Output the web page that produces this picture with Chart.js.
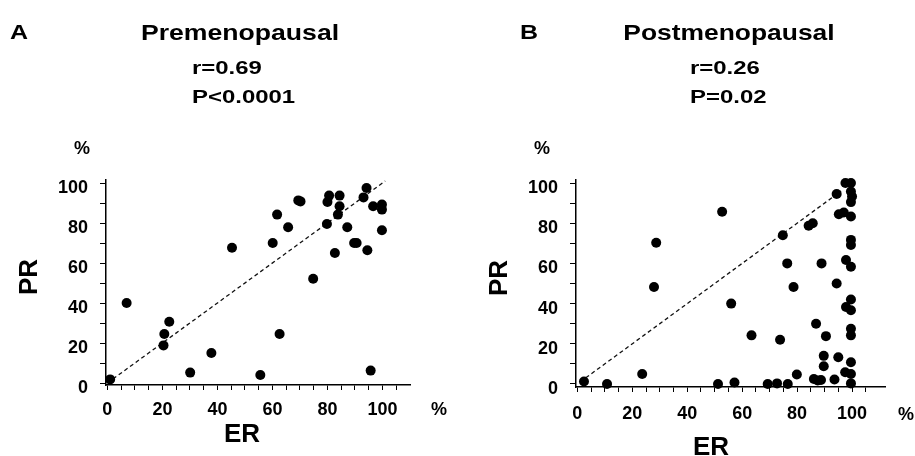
<!DOCTYPE html>
<html><head><meta charset="utf-8">
<script src="https://cdn.jsdelivr.net/npm/chart.js@4"></script>
<style>
html,body{margin:0;padding:0;background:#fff;width:915px;height:456px;overflow:hidden}
.p{position:absolute;top:0}
#wa{left:0;width:458px;height:456px}
#wb{left:458px;width:457px;height:456px}
</style></head><body>
<div class="p" id="wa"><canvas id="ca" width="458" height="456"></canvas></div>
<div class="p" id="wb"><canvas id="cb" width="457" height="456"></canvas></div>
<script>
// ---- data ----
const preER = [1, 7, 20.4, 20.7, 22.5, 30.1, 37.8, 45.3, 55.6, 60.1, 61.7, 62.6, 65.7, 69.4, 70.2, 74.8, 79.8, 80, 80.6, 82.7, 83.8, 84.4, 84.4, 87.2, 89.7, 90.6, 93.1, 94.2, 94.5, 95.7, 96.6, 99.8, 99.8, 99.8];
const prePR = [1.8, 40, 18.8, 24.5, 30.6, 5.2, 15, 67.6, 4, 70, 84.2, 24.5, 77.9, 91.3, 90.8, 52.1, 79.5, 90.5, 93.7, 65, 84.2, 88.4, 93.7, 77.9, 70, 70, 92.8, 97.5, 66.4, 6.2, 88.4, 89.2, 86.7, 76.4];
const postER = [2.4, 10.8, 23.6, 27.9, 28.7, 51.2, 52.7, 56, 57.2, 63.4, 69.3, 72.7, 73.8, 74.8, 76.4, 76.6, 78.7, 79.9, 84.2, 85.7, 86.1, 86.9, 87.5, 88.7, 88.9, 89.7, 89.7, 90.5, 93.6, 94.4, 94.4, 95, 95.2, 97, 97.6, 99.6, 97.5, 97.8, 97.8, 99.6, 99.6, 99.6, 99.6, 99.6, 99.6, 99.6, 99.6, 99.6, 99.6, 99.6, 99.6, 99.6, 100];
const postPR = [1.2, 0, 5, 48.3, 70.3, 0, 85.7, 40, 0.7, 24.2, 0, 0.3, 22, 74, 60, 0, 48.3, 4.7, 78.7, 80, 2.5, 30, 1.7, 2, 60, 14, 8.8, 23.8, 2.2, 94.5, 50, 13.3, 84.5, 85.3, 100, 100, 5.8, 61.7, 38.3, 95.8, 90.5, 83.3, 71.7, 69.2, 58.3, 42, 36.7, 27.5, 24.2, 10.8, 5, 0.3, 93.3];
const preDiag = [0, 101];
const postDiag = [1, 96];
const xTickValues = [0,5,10,15,20,25,30,35,40,45,50,55,60,65,70,75,80,85,90,95,100,105];
const xTickLabels = [0,20,40,60,80,100];
const yTickValues = [0,10,20,30,40,50,60,70,80,90,100];
const yTickLabels = [0,20,40,60,80,100];

const FAM = '"Liberation Sans", Arial, Helvetica, sans-serif';

function txt(ctx, s, x, y, size, sx, align, rot) {
  ctx.save();
  ctx.font = 'bold ' + size + 'px ' + FAM;
  ctx.fillStyle = '#000';
  ctx.textAlign = align || 'left';
  ctx.textBaseline = 'alphabetic';
  ctx.translate(x, y);
  if (rot) ctx.rotate(rot);
  ctx.scale(sx || 1, 1);
  ctx.fillText(s, 0, 0);
  ctx.restore();
}

function makeChart(id, W, H, area, xr, yr, er, pr, diag, xPad, texts) {
  const pts = er.map((v, i) => ({x: v, y: pr[i]}));
  const tickFont = {family: FAM, size: 18, weight: 'bold'};
  return new Chart(document.getElementById(id), {
    type: 'scatter',
    data: {datasets: [
      {type: 'line', data: diag.map(v => ({x: v, y: v})), borderColor: '#111', borderWidth: 1.3,
       borderDash: [4, 3], pointRadius: 0, fill: false, clip: false, order: 2},
      {data: pts, backgroundColor: '#000', borderColor: '#000', pointRadius: 5, pointHoverRadius: 5,
       borderWidth: 0, clip: false, order: 1}
    ]},
    options: {
      responsive: false, animation: false, devicePixelRatio: 1,
      layout: {padding: {left: 0, top: area.top, right: W - area.right, bottom: 0}},
      plugins: {legend: {display: false}, tooltip: {enabled: false}, title: {display: false}},
      scales: {
        x: {type: 'linear', min: xr[0], max: xr[1],
          afterBuildTicks: s => { s.ticks = xTickValues.map(v => ({value: v})); },
          afterFit: s => { s.height = H - area.bottom; },
          ticks: {callback: v => xTickLabels.includes(v) ? String(v) : '', font: tickFont, color: '#000',
                  padding: xPad, autoSkip: false, maxRotation: 0},
          grid: {drawOnChartArea: false, drawTicks: true, tickLength: 5, color: '#000', lineWidth: 1},
          border: {display: true, color: '#000', width: 1.5}},
        y: {type: 'linear', min: yr[0], max: yr[1],
          afterBuildTicks: s => { s.ticks = yTickValues.map(v => ({value: v})); },
          afterFit: s => { s.width = area.left; },
          ticks: {callback: v => yTickLabels.includes(v) ? String(v) : '', font: tickFont, color: '#000',
                  padding: 12, autoSkip: false, labelOffset: 5},
          grid: {drawOnChartArea: false, drawTicks: true, tickLength: 6, color: '#000', lineWidth: 1},
          border: {display: true, color: '#000', width: 1.5}}
      }
    },
    plugins: [{id: 'txt', afterDraw(chart) {
      const ctx = chart.ctx;
      texts.forEach(t => txt(ctx, t[0], t[1], t[2], t[3], t[4], t[5], t[6]));
    }}]
  });
}

const OB = 458;
makeChart('ca', 458, 456, {left: 106, right: 410, top: 180, bottom: 385}, [-0.5, 110], [-1, 101.5],
  preER, prePR, preDiag, 9, [
    ['A', 10, 39, 20, 1.25, 'left'],
    ['Premenopausal', 240, 39.5, 22, 1.21, 'center'],
    ['r=0.69', 192, 74, 19, 1.26, 'left'],
    ['P<0.0001', 192, 103, 19, 1.26, 'left'],
    ['%', 74, 154, 18, 1.0, 'left'],
    ['%', 439, 415, 18, 1.0, 'center'],
    ['ER', 242, 442, 26, 1.0, 'center'],
    ['PR', 37, 277, 26, 1.0, 'center', -Math.PI / 2]
  ]);
makeChart('cb', 457, 456, {left: 576 - OB, right: 885 - OB, top: 180, bottom: 387}, [-0.5, 112], [-1.5, 101.5],
  postER, postPR, postDiag, 11, [
    ['B', 520 - OB, 39, 20, 1.25, 'left'],
    ['Postmenopausal', 729 - OB, 39.5, 22, 1.2, 'center'],
    ['r=0.26', 690 - OB, 74, 19, 1.26, 'left'],
    ['P=0.02', 690 - OB, 103, 19, 1.26, 'left'],
    ['%', 534 - OB, 154, 18, 1.0, 'left'],
    ['%', 906 - OB, 420, 18, 1.0, 'center'],
    ['ER', 711 - OB, 455, 26, 1.0, 'center'],
    ['PR', 507 - OB, 278, 26, 1.0, 'center', -Math.PI / 2]
  ]);
</script>
</body></html>
